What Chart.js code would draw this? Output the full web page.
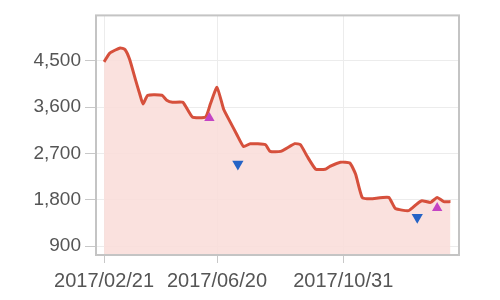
<!DOCTYPE html>
<html>
<head>
<meta charset="utf-8">
<script src="https://cdn.jsdelivr.net/npm/chart.js@4/dist/chart.umd.min.js"></script>
<style>
  html, body { margin: 0; padding: 0; background: #fff; }
  #wrap { width: 500px; height: 300px; }
</style>
</head>
<body>
<div id="wrap"><canvas id="c" width="500" height="300"></canvas></div>
<script>
// days counted from 2017/02/21
const days = [0, 6, 17, 22, 27, 33, 38, 41, 46, 61, 66, 72, 83, 93, 107, 112, 119, 126, 133, 140, 147, 154, 170, 175, 186, 201, 207, 214, 223, 233, 238, 249, 259, 265, 272, 281, 300, 307, 321, 330, 335, 344, 351, 358, 365];
const prices = [4480, 4650, 4750, 4720, 4525, 4140, 3830, 3660, 3830, 3830, 3735, 3695, 3695, 3410, 3410, 3660, 3985, 3560, 3310, 3065, 2835, 2890, 2870, 2740, 2740, 2890, 2870, 2645, 2395, 2395, 2450, 2530, 2515, 2300, 1845, 1820, 1845, 1630, 1590, 1725, 1780, 1750, 1845, 1765, 1765];

const upDays = [111, 351];
const upPrices = [3390, 1641];
const downDays = [141, 330];
const downPrices = [2495, 1461];

const tickDays = [0, 119, 252];
const tickLabels = ['2017/02/21', '2017/06/20', '2017/10/31'];
const yTicks = [900, 1800, 2700, 3600, 4500];

function toPoints(xs, ys) {
    return xs.map((x, i) => ({ x: x, y: ys[i] }));
}

const frame = {
    id: 'frame',
    afterDatasetsDraw(chart) {
        const a = chart.chartArea;
        const ctx = chart.ctx;
        ctx.save();
        ctx.strokeStyle = '#c4c4c4';
        ctx.lineWidth = 2;
        ctx.strokeRect(a.left, a.top, a.right - a.left, a.bottom - a.top);
        ctx.restore();
    }
};

new Chart(document.getElementById('c').getContext('2d'), {
    type: 'line',
    data: {
        datasets: [{
            data: toPoints(upDays, upPrices),
            showLine: false,
            pointStyle: 'triangle',
            pointRadius: 6,
            pointBackgroundColor: '#c444c4',
            pointBorderWidth: 0
        }, {
            data: toPoints(downDays, downPrices),
            showLine: false,
            pointStyle: 'triangle',
            rotation: 180,
            pointRadius: 6.5,
            pointBackgroundColor: '#2463c6',
            pointBorderWidth: 0
        }, {
            data: toPoints(days, prices),
            borderColor: '#d6503c',
            borderWidth: 3,
            backgroundColor: 'rgba(250,222,218,0.9)',
            fill: 'start',
            tension: 0.15,
            pointRadius: 0
        }]
    },
    options: {
        responsive: false,
        animation: false,
        layout: { padding: { top: 12, right: 41, left: 0, bottom: 0 } },
        plugins: { legend: { display: false }, tooltip: { enabled: false } },
        scales: {
            x: {
                type: 'linear',
                min: -8.5,
                max: 374,
                afterBuildTicks: (s) => { s.ticks = tickDays.map(v => ({ value: v })); },
                afterFit: (s) => { s.height = 45; },
                grid: { color: '#ececec', tickColor: '#c8c8c8', tickLength: 8, lineWidth: 1 },
                border: { display: false },
                ticks: {
                    color: '#555',
                    padding: 6,
                    maxRotation: 0,
                    autoSkip: false,
                    font: { family: 'Liberation Sans', size: 20 },
                    callback: (v) => tickLabels[tickDays.indexOf(v)]
                }
            },
            y: {
                min: 728,
                max: 5382,
                afterBuildTicks: (s) => { s.ticks = yTicks.map(v => ({ value: v })); },
                afterFit: (s) => { s.width = 96; },
                grid: { color: '#ececec', tickColor: '#c8c8c8', tickLength: 11, lineWidth: 1 },
                border: { display: false },
                ticks: {
                    color: '#555',
                    padding: 4,
                    font: { family: 'Liberation Sans', size: 19 },
                    callback: (v) => v.toLocaleString('en-US')
                }
            }
        }
    },
    plugins: [frame]
});
</script>
</body>
</html>
